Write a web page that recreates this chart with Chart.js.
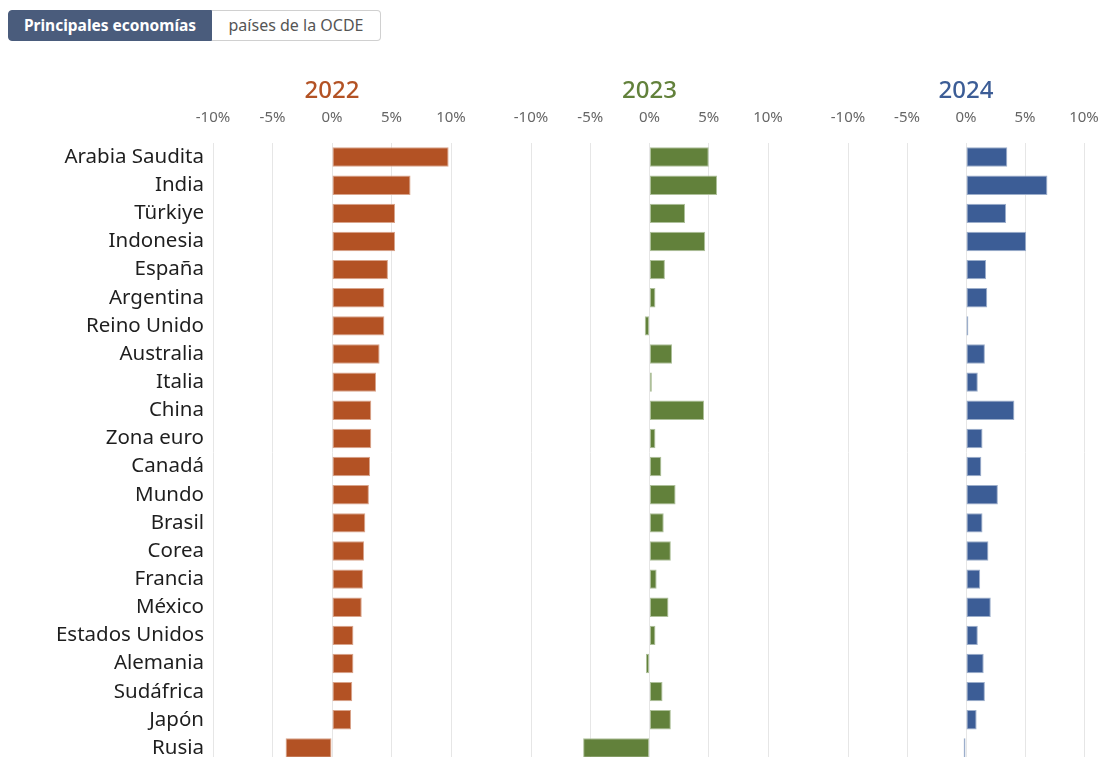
<!DOCTYPE html>
<html lang="es">
<head>
    <meta charset="UTF-8">
    <title>Crecimiento del PIB</title>
    <script src="https://cdn.jsdelivr.net/npm/chart.js"></script>
    <style>
        html, body { margin: 0; padding: 0; background: #fff; overflow: hidden; }
        body { width: 1102px; height: 757px; position: relative; font-family: "Noto Sans", sans-serif; }
        .toggle { position: absolute; left: 8px; top: 10px; display: flex; height: 31px; }
        .toggle div { box-sizing: border-box; height: 31px; line-height: 29px; text-align: center; border: 1px solid #d0d0d0; }
        .toggle .on { width: 204px; font-size: 15.5px; background: #4a5c7c; color: #fff; font-weight: bold; border-color: #4a5c7c; border-radius: 4px 0 0 4px; }
        .toggle .off { width: 169px; font-size: 16px; background: #fff; color: #555; border-left: none; border-radius: 0 4px 4px 0; }
        .panel { position: absolute; top: 77px; height: 685px; }
    </style>
</head>
<body>
    <div class="toggle">
        <div class="on">Principales economías</div>
        <div class="off">países de la OCDE</div>
    </div>
    <div class="panel" style="left:0;width:470px"><canvas id="chart2022"></canvas></div>
    <div class="panel" style="left:470px;width:320px"><canvas id="chart2023"></canvas></div>
    <div class="panel" style="left:790px;width:312px"><canvas id="chart2024"></canvas></div>
    <script>
        const categories = ["Arabia Saudita", "India", "Türkiye", "Indonesia", "España", "Argentina",
            "Reino Unido", "Australia", "Italia", "China", "Zona euro", "Canadá", "Mundo", "Brasil",
            "Corea", "Francia", "México", "Estados Unidos", "Alemania", "Sudáfrica", "Japón", "Rusia"];
        const values2022 = [9.8, 6.6, 5.3, 5.3, 4.7, 4.4, 4.4, 4.0, 3.7, 3.3, 3.3, 3.2, 3.1, 2.8,
            2.7, 2.6, 2.5, 1.8, 1.8, 1.7, 1.6, -3.9];
        const values2023 = [5.0, 5.7, 3.0, 4.7, 1.3, 0.5, -0.4, 1.9, 0.2, 4.6, 0.5, 1.0, 2.2, 1.2,
            1.8, 0.6, 1.6, 0.5, -0.3, 1.1, 1.8, -5.6];
        const values2024 = [3.5, 6.9, 3.4, 5.1, 1.7, 1.8, 0.2, 1.6, 1.0, 4.1, 1.4, 1.3, 2.7, 1.4,
            1.9, 1.2, 2.1, 1.0, 1.5, 1.6, 0.9, -0.2];
        const xTicks = [-10, -5, 0, 5, 10];

        const FONT = "'Noto Sans', sans-serif";

        function makeChart(id, year, values, color, edge, showLabels, padding) {
            const ctx = document.getElementById(id).getContext("2d");
            return new Chart(ctx, {
                type: "bar",
                data: {
                    labels: categories,
                    datasets: [{
                        label: year,
                        data: values,
                        backgroundColor: color,
                        borderColor: edge,
                        borderWidth: 1,
                        borderSkipped: false,
                        barPercentage: 0.69,
                        categoryPercentage: 1,
                    }],
                },
                options: {
                    indexAxis: "y",
                    responsive: true,
                    maintainAspectRatio: false,
                    animation: false,
                    layout: { padding: padding },
                    plugins: { legend: { display: false }, tooltip: { enabled: false } },
                    scales: {
                        x: {
                            position: "top",
                            min: -10,
                            max: 10,
                            afterBuildTicks: scale => { scale.ticks = xTicks.map(v => ({ value: v })); },
                            afterFit: scale => {
                                // keep the panels aligned: fixed header height, no label overhang
                                scale.height = 66;
                                scale.paddingLeft = 0;
                                scale.paddingRight = 0;
                            },
                            grid: { color: "#e6e6e6", drawTicks: false },
                            border: { display: false },
                            ticks: {
                                padding: 16,
                                color: "#666",
                                font: { family: FONT, size: 15 },
                                callback: v => v + "%",
                            },
                            title: {
                                display: true,
                                text: year,
                                color: color,
                                font: { family: FONT, size: 24, weight: "500" },
                                padding: { top: 0, bottom: 0 },
                            },
                        },
                        y: {
                            display: showLabels,
                            grid: { display: false, drawTicks: false },
                            border: { display: false },
                            afterFit: scale => {
                                if (showLabels) scale.width = 213;
                                scale.paddingTop = 0;
                                scale.paddingBottom = 0;
                            },
                            ticks: {
                                padding: 9,
                                color: "#1e1e1e",
                                font: { family: FONT, size: 20.5 },
                            },
                        },
                    },
                },
            });
        }

        makeChart("chart2022", "2022", values2022, "#b35224", "#d9a48b", true, { left: 0, right: 19, top: 0, bottom: 0 });
        makeChart("chart2023", "2023", values2023, "#62813b", "#aec09a", false, { left: 61, right: 22, top: 0, bottom: 0 });
        makeChart("chart2024", "2024", values2024, "#3c5d96", "#9caecb", false, { left: 58, right: 18, top: 0, bottom: 0 });
    </script>
</body>
</html>
